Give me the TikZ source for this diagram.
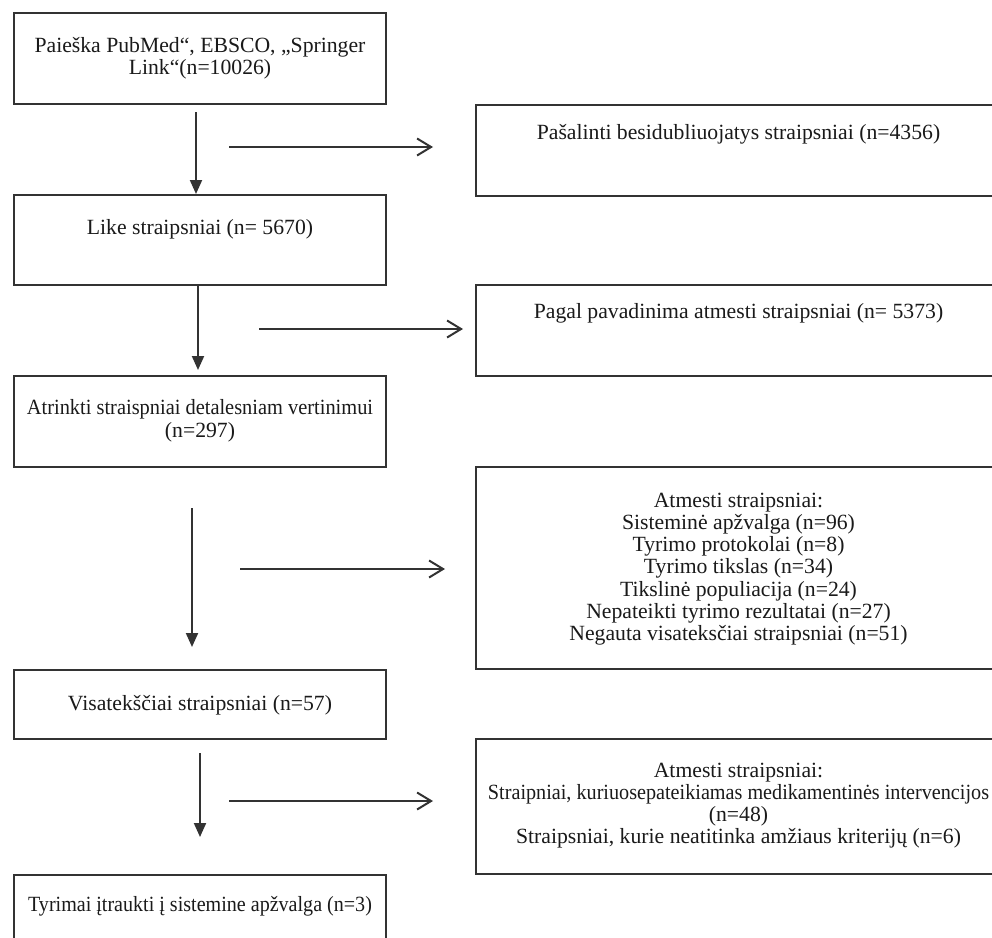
\documentclass[tikz,border=0pt]{standalone}
\usepackage{fontspec}
\setmainfont{Liberation Serif}
\usetikzlibrary{arrows.meta}
\definecolor{linec}{HTML}{333333}
\definecolor{txtc}{HTML}{1A1A1A}
\begin{document}
\begin{tikzpicture}[x=1pt,y=-1pt,
  box/.style={draw=linec, line width=2pt, inner sep=0pt},
  txt/.style={text=txtc, font=\fontsize{21.7}{22.3}\selectfont, inner sep=0pt, anchor=base},
  down/.style={draw=linec, line width=2pt, -{Triangle[width=12pt,length=14pt]}},
  side/.style={draw=linec, line width=2pt, -{Straight Barb[width=17pt,length=14pt]}}]
\fill[white] (0,0) rectangle (992,937);
\clip (0,0) rectangle (992,937);
\useasboundingbox (0,0) rectangle (992,937);

% left column boxes
\node[box, minimum width=372pt, minimum height=91pt] (b1) at (200,58.5) {};
\node[box, minimum width=372pt, minimum height=90pt] (b2) at (200,240) {};
\node[box, minimum width=372pt, minimum height=91pt] (b3) at (200,421.5) {};
\node[box, minimum width=372pt, minimum height=69pt] (b4) at (200,704.5) {};
\node[box, minimum width=372pt, minimum height=92pt] (b5) at (200,921) {};

% right column boxes
\node[box, minimum width=525pt, minimum height=91pt] (r1) at (738.5,150.5) {};
\node[box, minimum width=525pt, minimum height=91pt] (r2) at (738.5,330.5) {};
\node[box, minimum width=525pt, minimum height=202pt] (r3) at (738.5,568) {};
\node[box, minimum width=525pt, minimum height=135pt] (r4) at (738.5,806.5) {};

% texts
\node[txt] (t1a) at (200,52) {Paieška PubMed“, EBSCO, „Springer};
\node[txt] (t1b) at (200,74) {Link“(n=10026)};
\node[txt] (t2) at (200,234) {Like straipsniai (n= 5670)};
\node[txt] (t3a) at (200,414) {\scalebox{0.94}[1]{Atrinkti straispniai detalesniam vertinimui}};
\node[txt] (t3b) at (200,437) {(n=297)};
\node[txt] (t4) at (200,710) {Visatekščiai straipsniai (n=57)};
\node[txt] (t5) at (200,911) {\scalebox{0.925}[1]{Tyrimai įtraukti į sistemine apžvalga (n=3)}};

\node[txt] (s1) at (738.5,139) {Pašalinti besidubliuojatys straipsniai (n=4356)};
\node[txt] (s2) at (738.5,318) {Pagal pavadinima atmesti straipsniai (n= 5373)};
\foreach [count=\i] \l in {Atmesti straipsniai:, Sisteminė apžvalga (n=96), Tyrimo protokolai (n=8), Tyrimo tikslas (n=34), Tikslinė populiacija (n=24), Nepateikti tyrimo rezultatai (n=27), Negauta visateksčiai straipsniai (n=51)}
  \node[txt] (s3l\i) at (738.5,{507+22.3*(\i-1)}) {\l};
\foreach [count=\i] \l in {Atmesti straipsniai:, {\scalebox{0.93}[1]{Straipniai, kuriuosepateikiamas medikamentinės intervencijos}}, (n=48), {Straipsniai, kurie neatitinka amžiaus kriterijų (n=6)}}
  \node[txt] (s4l\i) at (738.5,{777+22.3*(\i-1)}) {\l};

% connector end points
\coordinate (v1s) at (196,112);
\coordinate (v3s) at (192,508);
\coordinate (v3e) at (192,647);
\coordinate (v4s) at (200,753);
\coordinate (v4e) at (200,837);
\coordinate (h1s) at (229,147);
\coordinate (h1e) at (433,147);
\coordinate (h2s) at (259,329);
\coordinate (h2e) at (463,329);
\coordinate (h3s) at (240,569);
\coordinate (h3e) at (445,569);
\coordinate (h4s) at (229,801);
\coordinate (h4e) at (433,801);

% vertical arrows
\draw[down] (v1s) -- (b2.north -| v1s);
\draw[down] (b2.south -| 198,0) -- (198,370);
\draw[down] (v3s) -- (v3e);
\draw[down] (v4s) -- (v4e);

% horizontal arrows
\draw[side] (h1s) -- (h1e);
\draw[side] (h2s) -- (h2e);
\draw[side] (h3s) -- (h3e);
\draw[side] (h4s) -- (h4e);
\end{tikzpicture}
\end{document}
